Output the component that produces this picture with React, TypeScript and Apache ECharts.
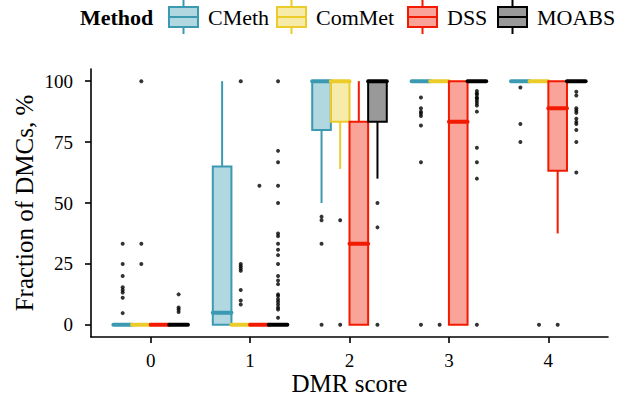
import React, { useEffect, useRef } from 'react';
import * as echarts from 'echarts';

// ---- data ----
const categories = ['0', '1', '2', '3', '4'];
const methods = ['CMeth', 'ComMet', 'DSS', 'MOABS'];
const yTicks = [0, 25, 50, 75, 100];

// box statistics per category: [lower whisker, q1, median, q3, upper whisker]
const cmethBoxes = [
  [0, 0, 0, 0, 0],
  [0, 0, 5, 65, 100],
  [50, 80, 100, 100, 100],
  [100, 100, 100, 100, 100],
  [100, 100, 100, 100, 100],
];
const commetBoxes = [
  [0, 0, 0, 0, 0],
  [0, 0, 0, 0, 0],
  [64, 83.3, 100, 100, 100],
  [100, 100, 100, 100, 100],
  [100, 100, 100, 100, 100],
];
const dssBoxes = [
  [0, 0, 0, 0, 0],
  [0, 0, 0, 0, 0],
  [0, 0, 33.3, 83.3, 100],
  [0, 0, 83.3, 100, 100],
  [37.5, 63.2, 88.9, 100, 100],
];
const moabsBoxes = [
  [0, 0, 0, 0, 0],
  [0, 0, 0, 0, 0],
  [60, 83.3, 100, 100, 100],
  [100, 100, 100, 100, 100],
  [100, 100, 100, 100, 100],
];

// outliers per category
const cmethOutliers = [
  [33.3, 25, 20, 15.4, 14.3, 13.3, 11.1, 4.8],
  [],
  [44.4, 42.9, 33.3, 0],
  [93.3, 88.9, 87.5, 86.7, 85.7, 81.8, 66.7, 0],
  [97.4, 82.4, 75],
];
const commetOutliers = [
  [100, 33.3, 25],
  [100, 25, 24, 23.1, 22.2, 14.3, 10, 8.3],
  [42.9, 0],
  [0],
  [0],
];
const dssOutliers = [[], [57.1], [], [], [0]];
const moabsOutliers = [
  [12.5, 7.1, 6.3, 5.3],
  [100, 71.4, 66.7, 57.1, 50, 37.5, 36.4, 33.3, 30.8, 28.6, 25, 20, 18.2, 16.7, 12.5, 11.8, 10.5, 9.5, 8.3, 7.1, 6.3, 2.9],
  [50, 40, 0],
  [96, 95, 94.4, 93.3, 92.9, 92, 91, 90, 87.5, 72.7, 66.7, 60, 0],
  [95.7, 94.1, 88.9, 88, 87, 84.6, 83.3, 82.4, 80, 75, 62.5],
];

// ---- styles ----
const strokeColors = ['#3B9AB2', '#EBCC2A', '#F21A00', '#000000'];
const fillColors = [
  'rgba(59,154,178,0.4)',
  'rgba(235,204,42,0.4)',
  'rgba(242,26,0,0.4)',
  'rgba(0,0,0,0.4)',
];
const FONT = 'Liberation Serif';
const DODGE = 0.75;
const BOX_W = DODGE / 4;
const LEGEND_KEY_X = [168, 276, 407, 497];

const allBoxes = [cmethBoxes, commetBoxes, dssBoxes, moabsBoxes];
const allOutliers = [cmethOutliers, commetOutliers, dssOutliers, moabsOutliers];

function offsetFor(i: number) {
  return -DODGE / 2 + BOX_W * (i + 0.5);
}

function buildOption() {
  const series: any[] = [];
  methods.forEach((m, i) => {
    const data = allBoxes[i].map((b, c) => [c + offsetFor(i), ...b]);
    series.push({
      type: 'custom',
      name: m,
      data,
      encode: { x: 0, y: [1, 2, 3, 4, 5] },
      z: 2,
      renderItem: (params: any, api: any) => {
        const x = api.value(0);
        const lo = api.coord([x, api.value(1)]);
        const q1 = api.coord([x, api.value(2)]);
        const med = api.coord([x, api.value(3)]);
        const q3 = api.coord([x, api.value(4)]);
        const hi = api.coord([x, api.value(5)]);
        const w = api.size([BOX_W, 0])[0];
        const cx = lo[0];
        const left = cx - w / 2;
        const right = cx + w / 2;
        const stroke = strokeColors[i];
        const children: any[] = [];
        if (Math.abs(hi[1] - q3[1]) > 0.1) {
          children.push({
            type: 'line',
            shape: { x1: cx, y1: q3[1], x2: cx, y2: hi[1] },
            style: { stroke, lineWidth: 2 },
          });
        }
        if (Math.abs(lo[1] - q1[1]) > 0.1) {
          children.push({
            type: 'line',
            shape: { x1: cx, y1: q1[1], x2: cx, y2: lo[1] },
            style: { stroke, lineWidth: 2 },
          });
        }
        if (Math.abs(q1[1] - q3[1]) > 0.1) {
          children.push({
            type: 'rect',
            shape: { x: left, y: q3[1], width: w, height: q1[1] - q3[1] },
            style: { fill: fillColors[i], stroke, lineWidth: 2 },
          });
        }
        children.push({
          type: 'line',
          shape: { x1: left, y1: med[1], x2: right, y2: med[1] },
          style: { stroke, lineWidth: 4, lineCap: 'round' },
        });
        return { type: 'group', children };
      },
    });
  });
  methods.forEach((m, i) => {
    const pts: number[][] = [];
    allOutliers[i].forEach((vals, c) => {
      vals.forEach((v) => pts.push([c + offsetFor(i), v]));
    });
    series.push({
      type: 'scatter',
      name: m + ' outliers',
      data: pts,
      symbol: 'circle',
      symbolSize: 4,
      itemStyle: { color: '#000' },
      z: 5,
      silent: true,
    });
  });

  const legendChildren: any[] = [
    {
      type: 'text',
      x: 80,
      y: 17,
      style: {
        text: 'Method',
        fontFamily: FONT,
        fontSize: 22,
        fontWeight: 'bold',
        fill: '#000',
        verticalAlign: 'middle',
        align: 'left',
      },
    },
  ];
  methods.forEach((m, i) => {
    const kx = LEGEND_KEY_X[i];
    legendChildren.push(
      {
        type: 'line',
        shape: { x1: kx + 15.5, y1: 0, x2: kx + 15.5, y2: 34 },
        style: { stroke: strokeColors[i], lineWidth: 2 },
      },
      {
        type: 'rect',
        shape: { x: kx + 1, y: 7, width: 29, height: 20 },
        style: { fill: '#fff', stroke: 'none' },
      },
      {
        type: 'rect',
        shape: { x: kx + 1, y: 7, width: 29, height: 20 },
        style: { fill: fillColors[i], stroke: strokeColors[i], lineWidth: 2 },
      },
      {
        type: 'line',
        shape: { x1: kx + 1, y1: 17, x2: kx + 30, y2: 17 },
        style: { stroke: strokeColors[i], lineWidth: 2 },
      },
      {
        type: 'text',
        x: kx + 40,
        y: 17,
        style: {
          text: m,
          fontFamily: FONT,
          fontSize: 22,
          fill: '#000',
          verticalAlign: 'middle',
          align: 'left',
        },
      }
    );
  });

  return {
    animation: false,
    backgroundColor: '#fff',
    textStyle: { fontFamily: FONT },
    grid: {
      left: 91,
      right: 27,
      top: 69,
      bottom: 61,
      containLabel: false,
      outerBoundsMode: 'none',
    },
    xAxis: {
      type: 'value',
      min: -0.6,
      max: 4.6,
      name: 'DMR score',
      nameLocation: 'middle',
      nameGap: 34,
      nameMoveOverlap: false,
      nameTextStyle: { fontSize: 25, lineHeight: 24, color: '#000', fontFamily: FONT },
      axisLine: { show: true, onZero: false, lineStyle: { color: '#000', width: 1.6 } },
      axisTick: {
        show: true,
        length: 6,
        customValues: categories.map((_, c) => c),
        lineStyle: { color: '#000', width: 1.6 },
      },
      axisLabel: {
        customValues: categories.map((_, c) => c),
        formatter: (v: number) => categories[Math.round(v)] ?? '',
        fontSize: 19,
        color: '#000',
        margin: 14,
        fontFamily: FONT,
      },
      splitLine: { show: false },
    },
    yAxis: {
      type: 'value',
      min: -5,
      max: 105,
      name: 'Fraction of DMCs, %',
      nameLocation: 'middle',
      nameGap: 54,
      nameMoveOverlap: false,
      nameTextStyle: { fontSize: 25, color: '#000', fontFamily: FONT },
      axisLine: { show: true, onZero: false, lineStyle: { color: '#000', width: 1.6 } },
      axisTick: {
        show: true,
        length: 6,
        customValues: yTicks,
        lineStyle: { color: '#000', width: 1.6 },
      },
      axisLabel: {
        customValues: yTicks,
        fontSize: 19,
        color: '#000',
        margin: 18,
        fontFamily: FONT,
      },
      splitLine: { show: false },
    },
    graphic: legendChildren,
    series,
  };
}

export default function App() {
  const ref = useRef<HTMLDivElement>(null);
  useEffect(() => {
    if (!ref.current) return;
    const chart = echarts.init(ref.current, undefined, { renderer: 'svg' });
    chart.setOption(buildOption() as any);
    return () => chart.dispose();
  }, []);
  return (
    <div
      ref={ref}
      style={{ position: 'fixed', left: 0, top: 0, width: 635, height: 398, background: '#fff' }}
    />
  );
}
